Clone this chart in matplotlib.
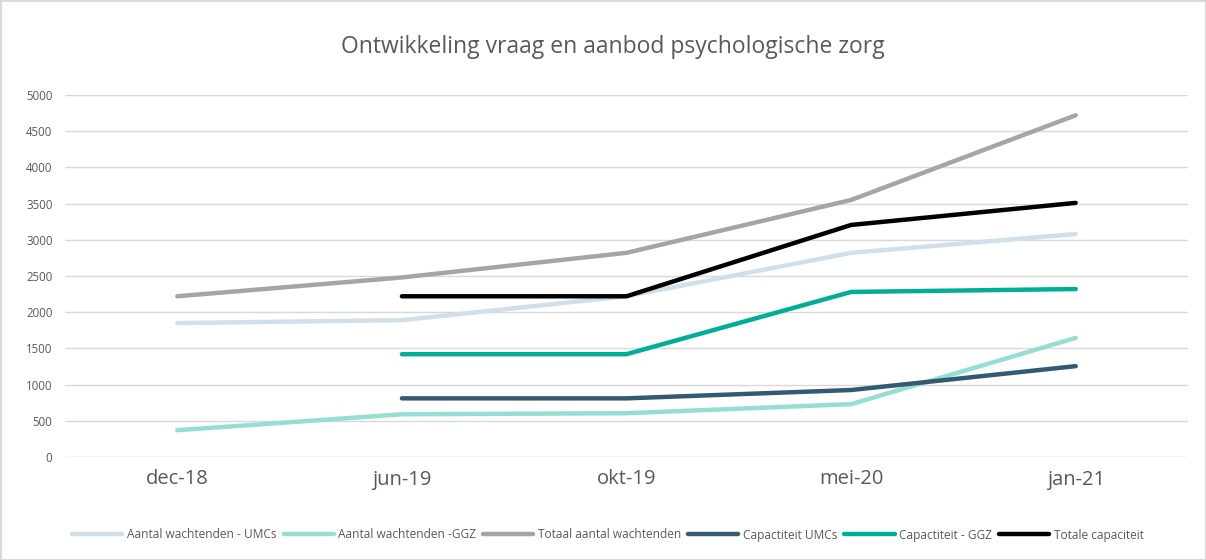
import matplotlib
matplotlib.use("Agg")
import matplotlib.pyplot as plt
import numpy as np

categories = ["dec-18", "jun-19", "okt-19", "mei-20", "jan-21"]
wacht_umc = [1850, 1890, 2220, 2820, 3080]
wacht_ggz = [370, 590, 605, 730, 1645]
totaal_wacht = [2220, 2480, 2820, 3550, 4720]
cap_umc = [None, 810, 810, 925, 1255]
cap_ggz = [None, 1420, 1420, 2280, 2320]
totaal_cap = [None, 2220, 2220, 3205, 3510]

series = [
    ("Aantal wachtenden - UMCs", wacht_umc, "#d0dfea"),
    ("Aantal wachtenden -GGZ", wacht_ggz, "#94dfd2"),
    ("Totaal aantal wachtenden", totaal_wacht, "#a5a5a5"),
    ("Capactiteit UMCs", cap_umc, "#335a73"),
    ("Capactiteit - GGZ", cap_ggz, "#00ae97"),
    ("Totale capaciteit", totaal_cap, "#000000"),
]

plt.rcParams['font.family'] = ['Open Sans', 'DejaVu Sans']

fig = plt.figure(figsize=(12.06, 5.6), dpi=100)
ax = fig.add_axes([65/1206, (560-457)/560, (1188-65)/1206, (457-95)/560])

x = np.arange(len(categories))
for name, vals, col in series:
    v = np.array([np.nan if a is None else a for a in vals], dtype=float)
    ax.plot(x, v, color=col, lw=3.2, solid_capstyle='round', solid_joinstyle='round',
            label=name, clip_on=False)

ax.set_xlim(-0.5, len(categories) - 0.5)
ax.set_ylim(0, 5000)
ax.set_yticks(np.arange(0, 5001, 500))
ax.set_xticks(x)
ax.set_xticklabels(categories, fontsize=14.5, color="#595959")
ax.tick_params(axis='x', length=0, pad=9)
ax.tick_params(axis='y', length=0, labelsize=8.3, labelcolor="#595959", pad=9)
ax.grid(axis='y', color="#d9d9d9", lw=1)
ax.set_axisbelow(True)
for s in ax.spines.values():
    s.set_visible(False)

fig.text(613/1206, 1 - 47/560, "Ontwikkeling vraag en aanbod psychologische zorg",
         ha='center', va='center', fontsize=16.5, color="#595959")

leg = fig.legend(loc='center', bbox_to_anchor=(608/1206, 1 - 535/560), ncol=6,
                 frameon=False, fontsize=8.6, handlelength=4.2, columnspacing=0.6,
                 handletextpad=0.37, labelcolor="#595959")

fig.patches.append(plt.Rectangle((0.5/1206, 0.5/560), 1 - 1/1206, 1 - 1/560,
                                 transform=fig.transFigure, fill=False,
                                 edgecolor="#d9d9d9", lw=1.5))

fig.savefig("out.png", dpi=100)
